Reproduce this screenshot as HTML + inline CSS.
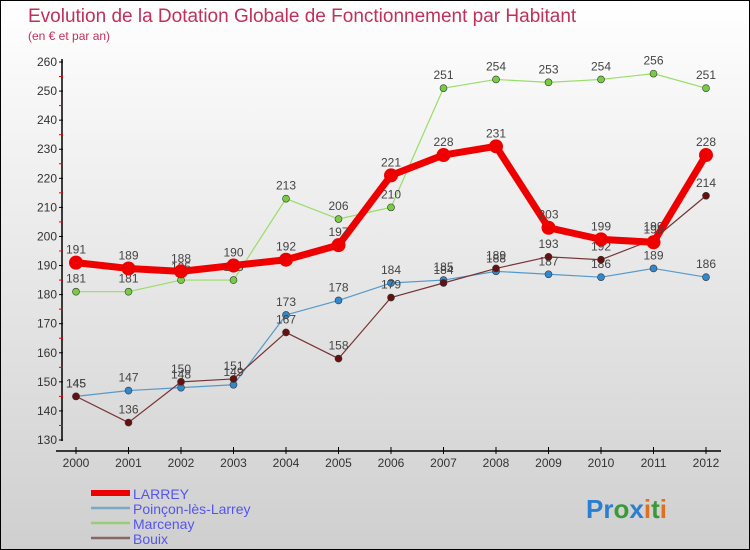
<!DOCTYPE html>
<html><head><meta charset="utf-8"><style>
body{margin:0}
#c{width:750px;height:550px;position:relative;box-sizing:border-box;border:1px solid #000;background:linear-gradient(#ffffff,#cfcfcf);font-family:"Liberation Sans",sans-serif;overflow:hidden}
svg{position:absolute;left:0;top:0}
</style></head><body>
<div id="c">
<svg id="s" width="750" height="550">
<text x="27" y="21" font-size="19" fill="#c0305a">Evolution de la Dotation Globale de Fonctionnement par Habitant</text>
<text x="27" y="39" font-size="12" fill="#c0305a">(en € et par an)</text>
<text x="585" y="517" font-size="26" font-weight="bold"><tspan fill="#2a7fd0">Pr</tspan><tspan fill="#3a9a3a">o</tspan><tspan fill="#2a7fd0">x</tspan><tspan fill="#e07020">i</tspan><tspan fill="#3a9a3a">t</tspan><tspan fill="#e07020">i</tspan></text>
</svg>
</div>
<script>
const years=[2000,2001,2002,2003,2004,2005,2006,2007,2008,2009,2010,2011,2012];
const larrey=[191,189,188,190,192,197,221,228,231,203,199,198,228];
const poincon=[145,147,148,149,173,178,184,185,188,187,186,189,186];
const marcenay=[181,181,185,185,213,206,210,251,254,253,254,256,251];
const bouix=[145,136,150,151,167,158,179,184,189,193,192,199,214];
const yTicks=[130,140,150,160,170,180,190,200,210,220,230,240,250,260];
const names=["LARREY","Poinçon-lès-Larrey","Marcenay","Bouix"];
const NS="http://www.w3.org/2000/svg";
const s=document.getElementById('s');
const X=i=>75+i*52.5;
const Y=v=>439-(v-130)*(378/130);
function mk(t,a,p){const e=document.createElementNS(NS,t);for(const k in a)e.setAttribute(k,a[k]);(p||s).appendChild(e);return e;}
// axes
let ax=mk('line',{x1:61,y1:58,x2:61,y2:440,stroke:'#000','stroke-width':1.5});


let bx=mk('line',{x1:55,y1:450,x2:720,y2:450,stroke:'#000','stroke-width':1.5});


yTicks.forEach((v,i)=>{
  mk('line',{x1:58,y1:Y(v),x2:62,y2:Y(v),stroke:'#000'});
  if(i<yTicks.length-1) mk('line',{x1:58,y1:Y(v+5),x2:62,y2:Y(v+5),stroke:'#e00'});
  const t=mk('text',{x:56,y:Y(v)+4,'font-size':12,fill:'#333','text-anchor':'end'});
  t.textContent=v;
  
  
});
years.forEach((y,i)=>{
  mk('line',{x1:X(i),y1:446,x2:X(i),y2:453,stroke:'#000'});
  const t=mk('text',{x:X(i),y:466,'font-size':12,fill:'#333','text-anchor':'middle'});
  t.textContent=y;
  
  
});
function series(data,color,dot,w,r,name){
  const g=mk('g',{});
  
  
  mk('polyline',{points:data.map((v,i)=>X(i)+','+Y(v)).join(' '),fill:'none',stroke:color,'stroke-width':w,'stroke-linejoin':'round'},g);
  data.forEach((v,i)=>{
    const c=mk('circle',{cx:X(i),cy:Y(v),r:r,fill:dot,stroke:'#333','stroke-width':r>4?0:0.6},g);
    
    
    const t=mk('text',{x:X(i),y:Y(v)-9,'font-size':12,fill:'#444','text-anchor':'middle'},g);
    t.textContent=v;
    
    
  });
}
series(marcenay,'#99dd66','#77cc44',1.2,3.5,'marcenay');
series(poincon,'#5599cc','#3388cc',1.2,3.5,'poincon');
series(bouix,'#773333','#661111',1.2,3.5,'bouix');
series(larrey,'#ee0000','#ee0000',7,7,'larrey');
const lc=['#ee0000','#7aa8c8','#99cc77','#886666'],lw=[6,2.5,2.5,2.5];
names.forEach((n,i)=>{
  const y=492+i*15;
  const l=mk('line',{x1:90,y1:y,x2:129,y2:y,stroke:lc[i],'stroke-width':lw[i]});
  
  
  const t=mk('text',{x:132,y:y+6,'font-size':14,fill:'#5555ee'});
  t.textContent=n;
  
  
});
</script>
</body></html>
